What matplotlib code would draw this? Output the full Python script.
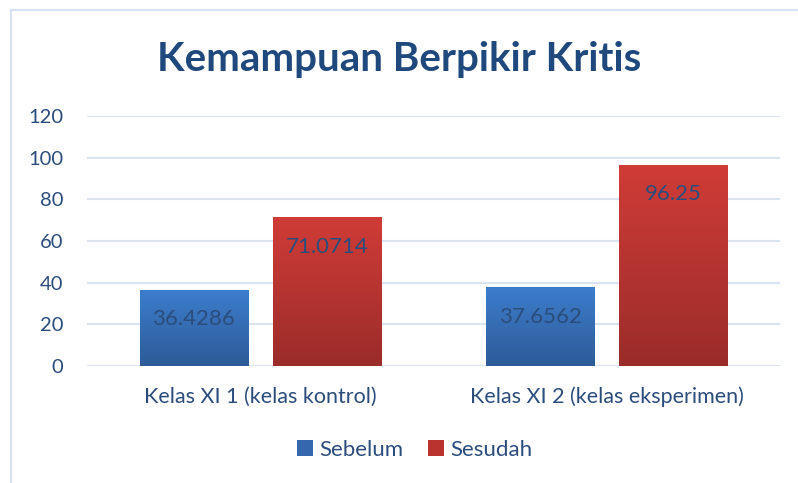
import numpy as np
import matplotlib.pyplot as plt
from matplotlib.patches import Patch
from matplotlib.lines import Line2D
from matplotlib.colors import LinearSegmentedColormap

categories = ["Kelas XI 1 (kelas kontrol)", "Kelas XI 2 (kelas eksperimen)"]
series_names = ["Sebelum", "Sesudah"]
sebelum = [36.4286, 37.6562]
sesudah = [71.0714, 96.25]
labels_sebelum = ["36.4286", "37.6562"]
labels_sesudah = ["71.0714", "96.25"]
yticks = [0, 20, 40, 60, 80, 100, 120]

plt.rcParams['font.family'] = ['Lato', 'DejaVu Sans']
text_col = "#2B4D7C"
title_col = "#1F497D"
grid_col = "#D9E3F1"

# gradient colors (top, bottom)
blue_grad = ("#3C7DCC", "#2E5B98")
red_grad = ("#D03C37", "#9A2C2A")

W, H = 798, 483
fig = plt.figure(figsize=(W / 100, H / 100), dpi=100)
ax = fig.add_axes([87 / W, (H - 366) / H, 693 / W, 250 / H])

x = np.arange(len(categories))
width = 0.312
off = 0.192

b1 = ax.bar(x - off, sebelum, width, color="none", zorder=3)
b2 = ax.bar(x + off, sesudah, width, color="none", zorder=3)

grad = np.linspace(0, 1, 256).reshape(-1, 1)


def fill_gradient(bars, cols):
    cmap = LinearSegmentedColormap.from_list("g", [cols[1], cols[0]])
    for r in bars:
        x0 = r.get_x()
        x1 = x0 + r.get_width()
        h = r.get_height()
        ax.imshow(grad, extent=[x0, x1, 0, h], origin="lower", aspect="auto",
                  cmap=cmap, zorder=3)


fill_gradient(b1, blue_grad)
fill_gradient(b2, red_grad)

for bars, labs in [(b1, labels_sebelum), (b2, labels_sesudah)]:
    for r, lab in zip(bars, labs):
        ax.annotate(lab, (r.get_x() + r.get_width() / 2, r.get_height()),
                    xytext=(0, -29), textcoords="offset pixels",
                    ha="center", va="center", fontsize=16, color=text_col, zorder=4)

ax.set_xlim(-0.5, 1.5)
ax.set_ylim(0, 120)
ax.set_yticks(yticks)
ax.set_xticks(x)
ax.set_xticklabels(categories, fontsize=15.5)
ax.tick_params(axis="both", length=0, labelcolor=text_col)
ax.tick_params(axis="y", labelsize=14.5, pad=17)
ax.tick_params(axis="x", pad=15)
ax.yaxis.grid(True, color=grid_col, linewidth=1.5, zorder=0)
ax.set_axisbelow(True)
for s in ax.spines.values():
    s.set_visible(False)

fig.text(0.5, 1 - 60 / H, "Kemampuan Berpikir Kritis", ha="center", va="center",
         fontsize=29, fontweight="bold", color=title_col)

handles = [Patch(facecolor="#3567AE", edgecolor="none"),
           Patch(facecolor="#B9332F", edgecolor="none")]
fig.legend(handles, series_names, loc="center", bbox_to_anchor=(415 / W, 1 - 450 / H),
           ncol=2, frameon=False, fontsize=16, labelcolor=text_col,
           handlelength=0.7, handleheight=0.7, handletextpad=0.3, columnspacing=1.1)

# chart border
fig.add_artist(Line2D([11 / W, 11 / W], [0, 1 - 10 / H], color="#D6E1F1", lw=1.5))
fig.add_artist(Line2D([11 / W, 1], [1 - 10 / H, 1 - 10 / H], color="#D6E1F1", lw=1.5))

fig.savefig("out.png", dpi=100)
